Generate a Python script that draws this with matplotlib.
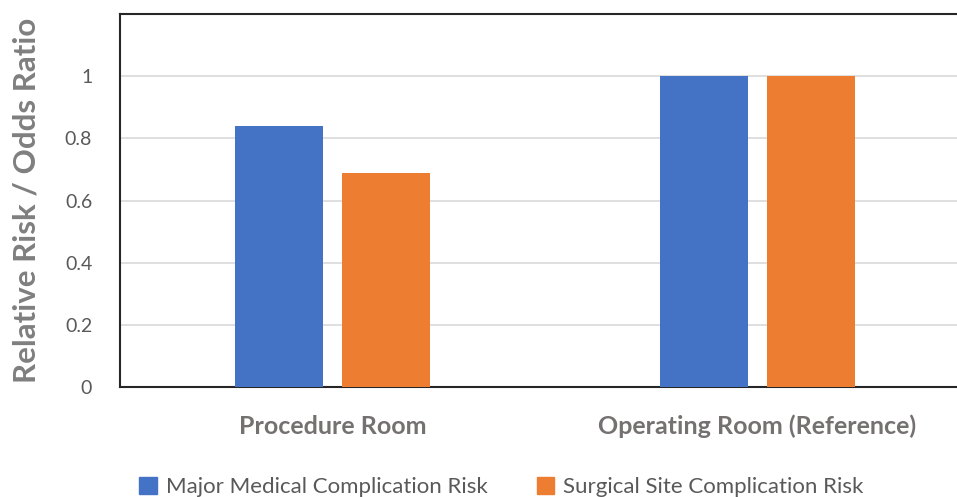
import numpy as np
import matplotlib.pyplot as plt
from matplotlib.patches import Patch

# Data
categories = ['Procedure Room', 'Operating Room (Reference)']
series_names = ['Major Medical Complication Risk', 'Surgical Site Complication Risk']
major_medical = [0.84, 1.0]
surgical_site = [0.69, 1.0]
colors = ['#4472C4', '#ED7D31']

plt.rcParams['font.family'] = ['Lato', 'DejaVu Sans']

fig = plt.figure(figsize=(9.57, 4.97), dpi=100)
ax = fig.add_axes([0.1254, 0.2213, 0.888, 0.7505])

x = np.arange(len(categories))
width = 0.207
offset = 0.126
ax.bar(x - offset, major_medical, width, color=colors[0], zorder=3)
ax.bar(x + offset, surgical_site, width, color=colors[1], zorder=3)

ax.set_xlim(-0.5, 1.5)
ax.set_ylim(0, 1.2)
ax.set_yticks([0, 0.2, 0.4, 0.6, 0.8, 1])
ax.set_yticklabels(['0', '0.2', '0.4', '0.6', '0.8', '1'])
ax.yaxis.grid(True, color='#d9d9d9', linewidth=1.2, zorder=0)
ax.set_xticks(x)
ax.set_xticklabels(categories, fontsize=18, fontweight='bold', color='#767171')
ax.tick_params(axis='x', length=0, pad=20)
ax.tick_params(axis='y', length=0, pad=20, labelsize=14, labelcolor='#595959')

for s in ['left', 'top', 'bottom']:
    ax.spines[s].set_color('#262626')
    ax.spines[s].set_linewidth(1.5)
ax.spines['right'].set_visible(False)

ax.set_ylabel('Relative Risk / Odds Ratio', fontsize=22.5, fontweight='bold',
              color='#7f7f7f')
ax.yaxis.set_label_coords(-0.094, 0.5)

handles = [Patch(color=c) for c in colors]
fig.legend(handles, series_names, loc='center', ncol=2,
           bbox_to_anchor=(0.524, 0.02), frameon=False, fontsize=16,
           labelcolor='#595959', handlelength=0.8, handleheight=0.8,
           handletextpad=0.4, columnspacing=2.2)

fig.savefig('out.png', dpi=100)
